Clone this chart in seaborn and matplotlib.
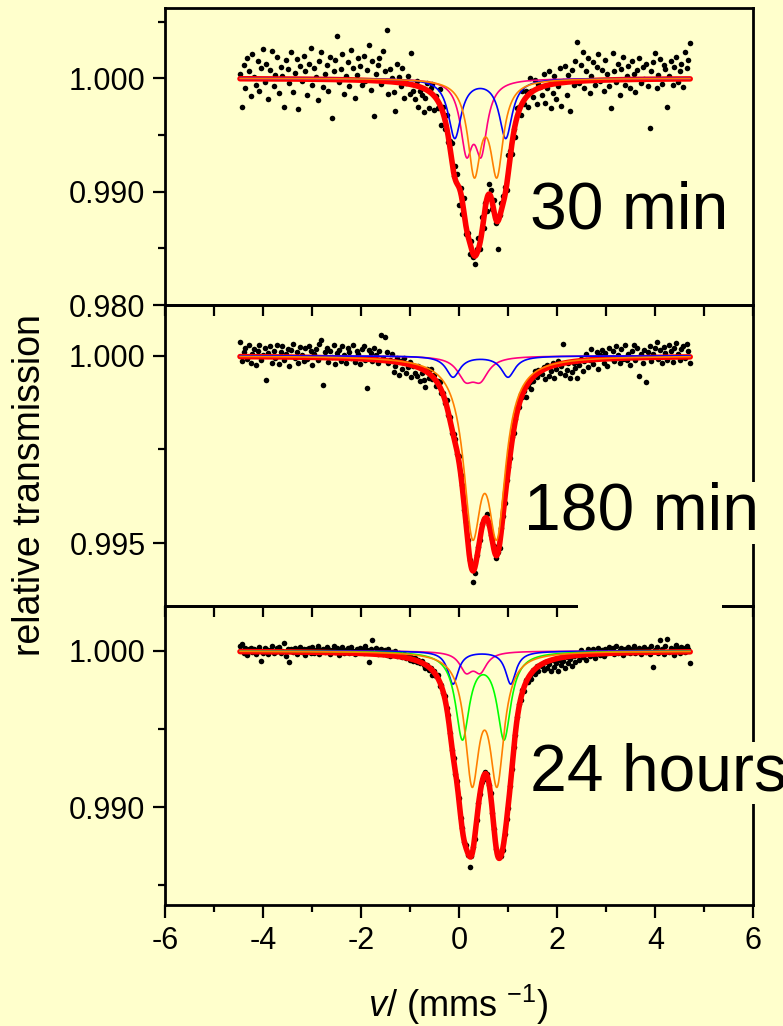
import numpy as np
import matplotlib
matplotlib.use("Agg")
import matplotlib.pyplot as plt
import seaborn as sns
from matplotlib.patches import Rectangle
from matplotlib.ticker import FixedLocator, FormatStrFormatter, NullFormatter

# ---------------- data ----------------
# velocity grid of the folded spectrum (channel centres)
V_START = -4.47
V_STEP = 0.036

# measured relative transmission, stored as (T - 1) * 1e5
t30 = [40, -250, 120, -90, 180, 60, -160, 210, 10, -60,
       150, -110, 90, 260, -30, 130, -180, 70, 240, -70,
       30, 190, -130, 100, 20, -250, 160, 80, -40, 230,
       -120, 50, 170, -270, 110, -20, 200, 60, -150, 130,
       270, -60, 90, 10, -190, 150, 230, -80, 40, 120,
       -110, 190, -350, 60, 160, 370, -30, 80, 210, -140,
       20, 140, -70, 250, 90, -170, 30, 180, 110, -60,
       200, -20, 70, 290, -100, 150, -330, 40, 120, 180,
       -50, 240, 60, 430, -140, 80, 0, -120, -290, 130,
       10, -70, 90, -170, -40, 20, -140, 220, -110, -180,
       -20, -250, -110, -150, -300,
       -176, -45, -266, -89, -53, -278, -155, -260, -98, -413,
       -257, -451, -320, -559, -550, -571, -861, -778, -841, -1121,
       -970, -1195, -1052, -1377, -1363, -1550, -1438, -1578, -1640, -1510,
       -1409, -1507, -1227, -1321, -1100, -1173, -931, -981, -1154, -1075,
       -1279, -1510, -1204, -1096, -1034, -956, -985, -676, -640, -670,
       -450, -521, -260, -249, -321, -110, -224, -112, -255, 0,
       -108, -168, -19, -231, -54, -77,
       -150, 40, -220, -90, 60, -260, -130, 20, -180, -70,
       90, -240, -20, 110, -150, 30, -290, 70, -60, 150,
       320, -40, 120, 230, -90, 60, 180, -130, 20, 140,
       -60, 100, 210, -20, 70, -110, 160, 40, -70, -260,
       220, 60, -30, 130, -150, 80, 190, -60, 20, 110,
       -90, 150, 40, -120, 70, 180, -40, 100, -10, 130,
       -70, -440, 60, 140, 220, -90, 30, 170, -50, 120,
       80, -250, 20, 150, -60, 100, 190, -30, 60, 130,
       -80, 230, 90, 160, 310]

t180 = [38, -15, 10, 22, -8, 30, -20, 5, 18, -25,
        12, 28, -10, 3, 20, -64, 8, 25, -18, 14,
        -5, 30, -22, 10, 26, -12, 4, 18, -28, 15,
        32, -6, 11, -20, 24, 2, -15, 20, -9, 27,
        13, -24, 6, 19, -11, 31, 43, -78, 9, 22,
        -17, 14, -3, 28, -21, 7, 16, -13, 25, 1,
        -19, 21, 10, -7, 30, -16, 12, 4, -23, 18,
        26, -10, -85, 15, 8, -14, 22, 3, -20, 12,
        56, -6, 50, 10, -18, -10, 4, -42, -26, -5,
        -50, -15, -34, -5, -46, -30, -17, -56, -28, -46,
        -53, -26, -67, -47, -64,
        -82, -36, -59, -36, -61, -50, -81, -68, -69, -99,
        -99, -126, -117, -157, -162, -205, -208, -223, -262, -268,
        -318, -346, -411, -443, -493, -546, -553, -604, -580, -533,
        -510, -493, -449, -436, -437, -423, -451, -479, -489, -509,
        -539, -524, -514, -459, -428, -393, -331, -296, -272, -217,
        -206, -169, -140, -136, -101, -111, -95, -110, -80, -70,
        -88, -68, -41, -56, -37, -46,
        -48, -30, -62, -25, -55, -40, -20, -58, -35, -15,
        -45, -28, 32, -52, -38, -20, -60, -42, -18, -33,
        -60, -25, -8, -40, -15, 5, -30, -12, 18, -22,
        -5, 10, -35, 2, 15, -18, 8, -28, 20, -6,
        12, -15, 25, 3, -20, 18, -8, 28, -12, 6,
        -25, 14, 30, -10, 22, -54, 5, -18, 16, -69,
        10, 26, -14, 4, 20, 38, -8, 15, -20, 24,
        7, -12, 30, 12, -16, 22, 35, 6, -10, 18,
        26, -5, 32, 14, -20]

t24h = [30, 45, -12, 18, -25, 10, 22, -8, 15, -18,
        5, 28, -64, -10, 20, 12, -22, 8, 35, -15,
        -5, 18, 25, -12, 2, 53, -30, 14, -70, 10,
        -8, 22, -18, 6, 28, -4, 15, -26, 12, 20,
        -10, 24, -15, 7, 30, -20, 4, 16, -9, 25,
        12, -17, 8, 32, -6, 18, -24, 10, 26, -12,
        5, 20, -14, 28, 3, -20, 15, -8, 22, 10,
        -16, 30, 8, -70, 14, 73, -10, 20, -22, 6,
        12, -18, 4, -26, 10, -30, -8, -20, 2, -35,
        -15, -28, -40, -22, -48, -30, -55, -38, -65, -45,
        -72, -58, -80, -66, -92,
        -109, -87, -120, -106, -151, -127, -163, -154, -225, -216,
        -269, -287, -367, -412, -524, -632, -687, -787, -833, -944,
        -1069, -1135, -1221, -1246, -1310, -1383, -1316, -1254, -1208, -1081,
        -971, -917, -840, -818, -773, -791, -859, -909, -1039, -1141,
        -1271, -1308, -1316, -1314, -1278, -1170, -1079, -1004, -862, -758,
        -616, -536, -425, -342, -316, -249, -258, -183, -201, -152,
        -180, -121, -150, -97, -127, -87,
        -95, -120, -70, -110, -85, -128, -60, -100, -75, -130,
        -55, -90, -65, -110, -40, -80, -50, -95, -35, -70,
        -25, -60, 5, -40, -15, -55, 10, -30, -20, 15,
        -45, -10, 20, -25, 8, -35, 12, -15, 25, -5,
        18, -20, 30, -10, 6, 22, -28, 14, -5, 26,
        -15, 10, 32, -12, 4, 20, -22, 15, 28, -8,
        12, -18, 35, -100, 8, 24, -14, 70, 16, -20,
        30, 75, -6, 22, 10, -25, 38, 14, -10, 28,
        20, -8, 34, 12, -75]

# fitted doublet sub-spectra: line positions (mm/s), FWHM (mm/s), depth
comp_colors = {"blue": "#0000FF", "magenta": "#FF0080",
               "green": "#00FF00", "orange": "#FF8000"}

fit30_names = ["magenta", "blue", "orange"]
fit30_line1 = [0.147, -0.091, 0.307]
fit30_line2 = [0.447, 0.948, 0.767]
fit30_fwhm = [0.30, 0.32, 0.32]
fit30_depth = [0.00583, 0.0052, 0.00794]

fit180_names = ["magenta", "blue", "orange"]
fit180_line1 = [0.13, -0.126, 0.269]
fit180_line2 = [0.43, 0.995, 0.771]
fit180_fwhm = [0.40, 0.34, 0.44]
fit180_depth = [0.00055, 0.00056, 0.00423]

fit24_names = ["magenta", "blue", "green", "orange"]
fit24_line1 = [0.14, -0.126, 0.065, 0.262]
fit24_line2 = [0.43, 1.05, 0.914, 0.771]
fit24_fwhm = [0.32, 0.26, 0.34, 0.35]
fit24_depth = [0.00118, 0.0021, 0.0055, 0.0079]

labels = ["30 min", "180 min", "24 hours"]
ylims = [(0.980, 1.0062), (0.99332, 1.00136), (0.98372, 1.00288)]
ymajor = [[0.980, 0.990, 1.000], [0.995, 1.000], [0.990, 1.000]]
yminor = [[0.985, 0.995, 1.005], [0.9975], [0.985, 0.995]]
label_pos = [(1.44, 0.98678), (1.33, 0.99535), (1.44, 0.99109)]

# ---------------- style ----------------
BG = "#FFFFCC"
sns.set_theme(style="ticks")
plt.rcParams["font.family"] = ["Liberation Sans", "DejaVu Sans"]
plt.rcParams.update({
    "mathtext.fontset": "custom",
    "mathtext.rm": "Liberation Sans",
    "mathtext.it": "Liberation Sans:italic",
    "mathtext.bf": "Liberation Sans:bold",
    "axes.unicode_minus": False,
    "axes.edgecolor": "black",
    "axes.linewidth": 2.0,
    "xtick.color": "black",
    "ytick.color": "black",
    "text.color": "black",
})

fig = plt.figure(figsize=(7.83, 10.26), dpi=100, facecolor=BG)
rects = [[0.2107, 0.7027, 0.7516, 0.2895],
         [0.2107, 0.4094, 0.7516, 0.2934],
         [0.2107, 0.1179, 0.7516, 0.2914]]


def lor(v, c, fwhm):
    return 1.0 / (1.0 + ((v - c) / (fwhm / 2.0)) ** 2)


panels = [
    (t30, fit30_names, fit30_line1, fit30_line2, fit30_fwhm, fit30_depth),
    (t180, fit180_names, fit180_line1, fit180_line2, fit180_fwhm, fit180_depth),
    (t24h, fit24_names, fit24_line1, fit24_line2, fit24_fwhm, fit24_depth),
]

axes = []
for k, (data, names, l1, l2, fw, dp) in enumerate(panels):
    ax = fig.add_axes(rects[k])
    ax.set_facecolor("none")
    axes.append(ax)
    y = 1.0 + np.asarray(data, dtype=float) * 1e-5
    v = V_START + V_STEP * np.arange(len(y))
    sns.scatterplot(x=v, y=y, ax=ax, color="black", s=16, linewidth=0,
                    zorder=1, legend=False)

    grid = np.linspace(v[0], v[-1], 1500)
    comps = []
    for n, a, b, w, d in zip(names, l1, l2, fw, dp):
        comps.append((n, d * (lor(grid, a, w) + lor(grid, b, w))))
    total = 1.0 - sum(c for _, c in comps)
    sns.lineplot(x=grid, y=total, ax=ax, color="#FF0000", linewidth=4.0,
                 estimator=None, sort=False, legend=False, zorder=2)
    for n, c in comps:
        sns.lineplot(x=grid, y=1.0 - c, ax=ax, color=comp_colors[n],
                     linewidth=1.2, estimator=None, sort=False,
                     legend=False, zorder=3)

    ax.set_xlim(-6, 6)
    ax.set_ylim(*ylims[k])
    ax.set_xlabel("")
    ax.set_ylabel("")
    for s in ax.spines.values():
        s.set_linewidth(2.0)
        s.set_visible(True)

    ax.yaxis.set_major_locator(FixedLocator(ymajor[k]))
    ax.yaxis.set_minor_locator(FixedLocator(yminor[k]))
    ax.yaxis.set_major_formatter(FormatStrFormatter("%.3f"))
    ax.tick_params(axis="y", which="major", direction="out", length=9,
                   width=1.6, labelsize=22, pad=5, right=False)
    ax.tick_params(axis="y", which="minor", direction="out", length=5,
                   width=1.6, right=False)

    if k < 2:
        ax.xaxis.set_major_locator(FixedLocator(np.arange(-6, 7, 1)))
        ax.xaxis.set_major_formatter(NullFormatter())
        ax.tick_params(axis="x", which="major", direction="out", length=8,
                       width=1.6, top=False, labelbottom=False)
    else:
        ax.xaxis.set_major_locator(FixedLocator(np.arange(-6, 7, 2)))
        ax.xaxis.set_minor_locator(FixedLocator(np.arange(-5, 6, 2)))
        ax.xaxis.set_major_formatter(FormatStrFormatter("%d"))
        ax.tick_params(axis="x", which="major", direction="out", length=9,
                       width=1.6, labelsize=22, pad=6, top=False)
        ax.tick_params(axis="x", which="minor", direction="out", length=5,
                       width=1.6, top=False)

    lx, ly = label_pos[k]
    ax.text(lx, ly, labels[k], fontsize=47.5, ha="left", va="baseline",
            bbox=dict(facecolor=BG, edgecolor="none", pad=0), zorder=6,
            clip_on=False)

# small blank patch over the boundary between the two lower panels
axes[2].add_patch(Rectangle((0.702, 0.95), 0.2445, 0.065,
                            transform=axes[2].transAxes, facecolor=BG,
                            edgecolor="none", clip_on=False, zorder=10))

fig.text(0.038, 0.527, "relative transmission", rotation=90, fontsize=27,
         ha="center", va="center")
fig.text(0.585, 0.0088, r"$\mathit{v}$/ (mms $^{\mathrm{-1}}$)", fontsize=26,
         ha="center", va="baseline")

fig.savefig("out.png", dpi=100, facecolor=BG)
